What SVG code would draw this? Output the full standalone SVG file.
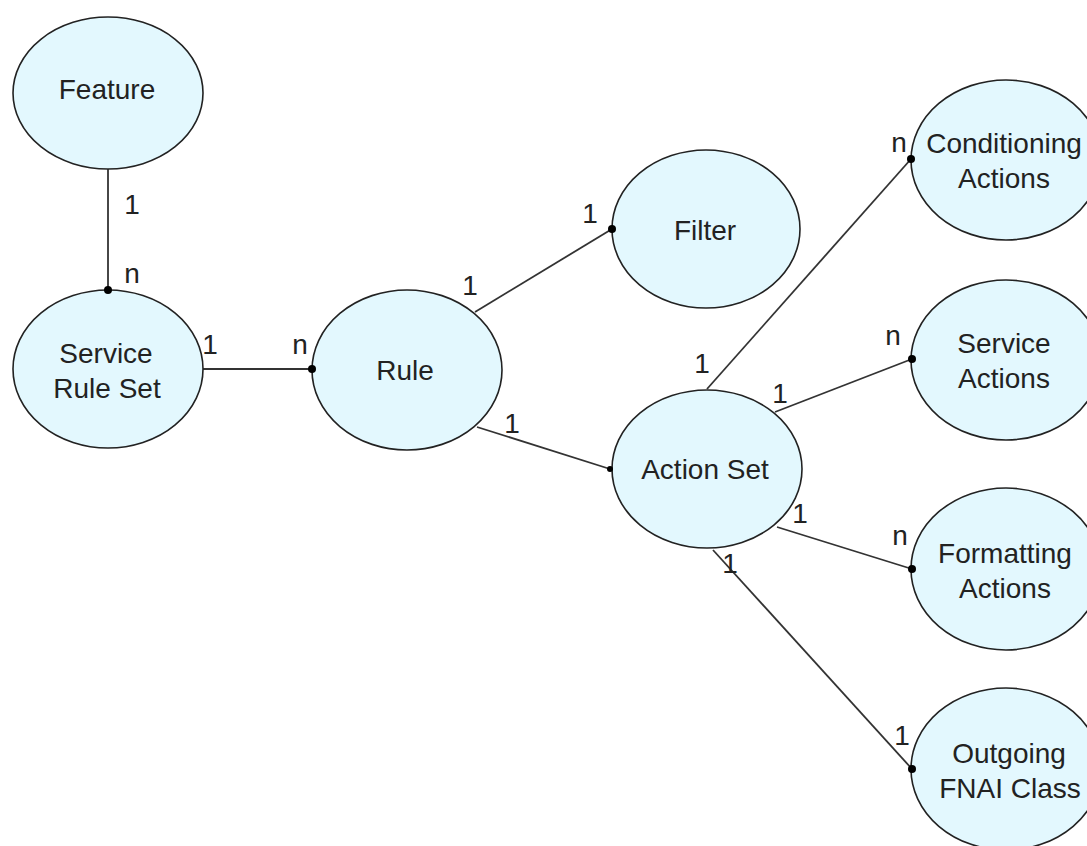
<svg xmlns="http://www.w3.org/2000/svg" width="1087" height="846" viewBox="0 0 1087 846">
<style>
.node ellipse{fill:#e3f8fe;stroke:#222;stroke-width:1.6}
.node text{font-family:"Liberation Sans",Arial,sans-serif;font-size:28px;fill:#222;text-anchor:middle}
.lbl{font-family:"Liberation Sans",Arial,sans-serif;font-size:28px;fill:#222;text-anchor:middle}
#connectors line{stroke:#333;stroke-width:1.8}
.dot{fill:#000}
</style>
<rect width="1087" height="846" fill="#fff"/>
<g id="connectors">
<line x1="108" y1="169" x2="108" y2="290"/>
<line x1="203" y1="369" x2="312" y2="369"/>
<line x1="475" y1="312" x2="612" y2="229"/>
<line x1="477" y1="427" x2="610" y2="469"/>
<line x1="707" y1="389" x2="911" y2="159"/>
<line x1="775" y1="412" x2="912" y2="359"/>
<line x1="777" y1="527" x2="912" y2="569"/>
<line x1="713" y1="550" x2="912" y2="769"/>
</g>
<g id="feature" class="node"><ellipse cx="108" cy="93" rx="95" ry="76"/><text x="107" y="99">Feature</text></g>
<g id="service-rule-set" class="node"><ellipse cx="108" cy="369" rx="95" ry="79"/><text x="106" y="363">Service</text><text x="107" y="398">Rule Set</text></g>
<g id="rule" class="node"><ellipse cx="407" cy="370" rx="95" ry="80"/><text x="405" y="380">Rule</text></g>
<g id="filter" class="node"><ellipse cx="706" cy="229" rx="94" ry="79"/><text x="705" y="240">Filter</text></g>
<g id="action-set" class="node"><ellipse cx="707" cy="469" rx="95" ry="79"/><text x="705" y="479">Action Set</text></g>
<g id="conditioning-actions" class="node"><ellipse cx="1006" cy="160" rx="95" ry="80"/><text x="1004" y="153">Conditioning</text><text x="1004" y="188">Actions</text></g>
<g id="service-actions" class="node"><ellipse cx="1006" cy="360" rx="95" ry="80"/><text x="1004" y="353">Service</text><text x="1004" y="388">Actions</text></g>
<g id="formatting-actions" class="node"><ellipse cx="1006" cy="569" rx="95" ry="81"/><text x="1005" y="563">Formatting</text><text x="1005" y="598">Actions</text></g>
<g id="outgoing-fnai-class" class="node"><ellipse cx="1006" cy="769" rx="95" ry="81"/><text x="1009" y="763">Outgoing</text><text x="1010" y="798">FNAI Class</text></g>
<g id="dots">
<circle class="dot" cx="108" cy="290" r="4"/>
<circle class="dot" cx="312" cy="369" r="4"/>
<circle class="dot" cx="612" cy="229" r="4"/>
<circle class="dot" cx="610" cy="469" r="3"/>
<circle class="dot" cx="911" cy="159" r="4"/>
<circle class="dot" cx="912" cy="359" r="4"/>
<circle class="dot" cx="912" cy="569" r="4"/>
<circle class="dot" cx="912" cy="769" r="4"/>
</g>
<g id="labels">
<text class="lbl" x="132" y="214">1</text>
<text class="lbl" x="132" y="283">n</text>
<text class="lbl" x="210" y="354">1</text>
<text class="lbl" x="300" y="354">n</text>
<text class="lbl" x="470" y="295">1</text>
<text class="lbl" x="590" y="223">1</text>
<text class="lbl" x="512" y="433">1</text>
<text class="lbl" x="702" y="373">1</text>
<text class="lbl" x="899" y="152">n</text>
<text class="lbl" x="780" y="403">1</text>
<text class="lbl" x="893" y="345">n</text>
<text class="lbl" x="800" y="523">1</text>
<text class="lbl" x="900" y="545">n</text>
<text class="lbl" x="730" y="573">1</text>
<text class="lbl" x="902" y="745">1</text>
</g>
</svg>
